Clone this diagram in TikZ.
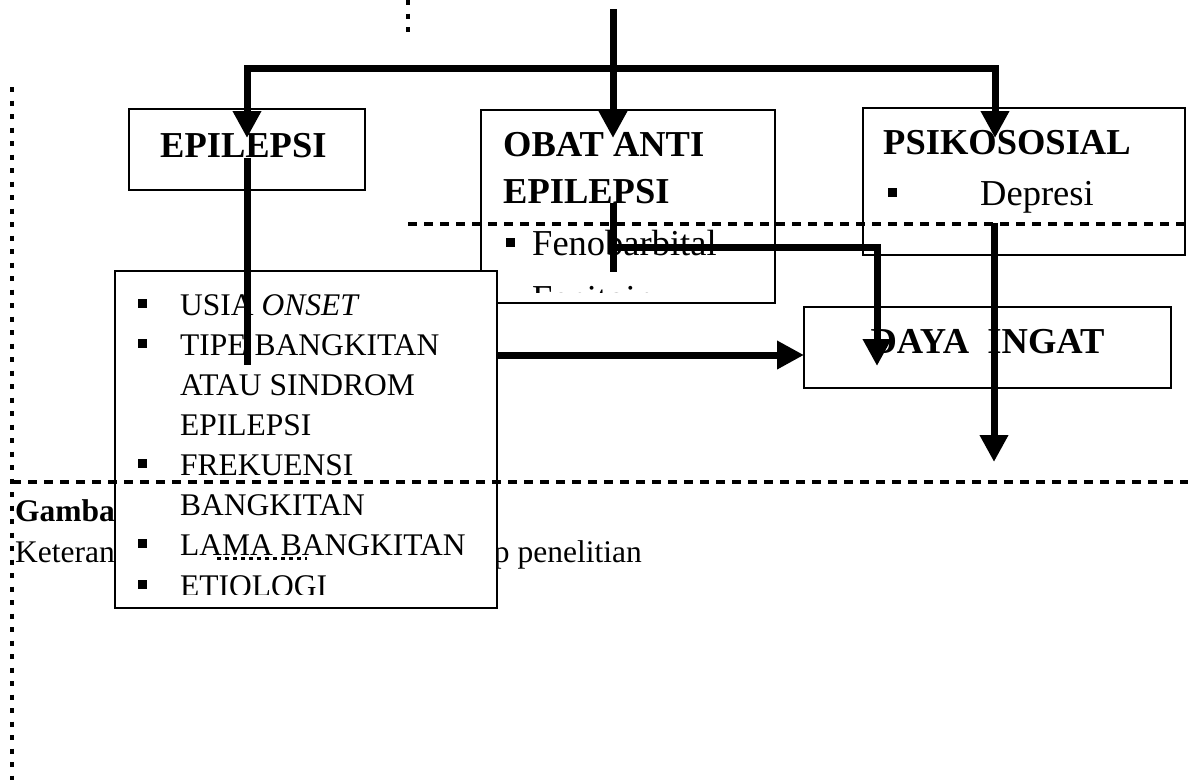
\documentclass[tikz,border=0pt]{standalone}
\usepackage{fontspec}
\setmainfont{Liberation Serif}
\usetikzlibrary{arrows.meta}
\begin{document}
\begin{tikzpicture}[x=1pt,y=-1pt,
  box/.style={draw,line width=2pt,fill=white,anchor=north west,inner sep=0pt,outer sep=0pt},
  conn/.style={line width=7pt},
  arr/.style={line width=7pt,-{Triangle[width=27pt,length=27pt]}},
  dotv/.style={line width=4pt,dash pattern=on 5pt off 8.5pt},
  dashh/.style={line width=3.5pt,dash pattern=on 9pt off 7pt},
  dashs/.style={line width=3pt,dash pattern=on 4pt off 4pt},
  bul/.style={fill=black,minimum size=9pt,inner sep=0pt,outer sep=0pt},
  title/.style={font=\fontsize{36.5}{40}\selectfont\bfseries,anchor=base west,inner sep=0pt},
  txt/.style={font=\fontsize{36.5}{40}\selectfont,anchor=base west,inner sep=0pt},
  ltxt/.style={font=\fontsize{31.5}{36}\selectfont,anchor=base west,inner sep=0pt},
  captxt/.style={font=\fontsize{31.5}{36}\selectfont,inner sep=0pt},
]
\useasboundingbox (0,0) rectangle (1188,780);
\fill[white] (0,0) rectangle (1188,780);

% caption (partly hidden)
\node[captxt,font=\fontsize{31.5}{36}\selectfont\bfseries,anchor=base west] (gamba) at (15,521) {Gamba};
\node[captxt,anchor=base west] (ket) at (15,562) {Keteran};
\node[captxt,anchor=base east] (pen) at (642,562) {p penelitian};

% boxes
\node[box,minimum width=294pt,minimum height=193pt] (obat) at (481,110) {};
\node[box,minimum width=236pt,minimum height=81pt] (epi) at (129,109) {};
\node[box,minimum width=322pt,minimum height=147pt] (psi) at (863,108) {};
\node[box,minimum width=367pt,minimum height=81pt] (daya) at (804,307) {};

% box texts
\node[title] (epit) at (160,157) {EPILEPSI};
\node[title] (obt1) at (503,156) {OBAT ANTI};
\node[title] (obt2) at (503,203) {EPILEPSI};
\begin{scope}
  \clip (481,110) rectangle (775,292);
  \node[bul] (ob1) at (510,242) {};
  \node[txt] (feno) at (532,255) {Fenobarbital};
  \node[bul] (ob2) at (510,297) {};
  \node[txt] (feni) at (532,310) {Fenitoin};
\end{scope}
\node[title] (psit) at (883,154) {PSIKOSOSIAL};
\node[bul] (pb1) at (892,192) {};
\node[txt] (dep) at (980,205) {Depresi};
\node[title,anchor=base] (dayat) at (987.5,353) {DAYA\ \ INGAT};

% list box
\node[box,minimum width=382pt,minimum height=337pt] (list) at (115,271) {};
\begin{scope}
  \clip (115,271) rectangle (497,594);
  \node[bul] (lb1) at (142.5,303) {};
  \node[ltxt] (l1) at (180,315) {USIA \textit{ONSET}};
  \node[bul] (lb2) at (142.5,343) {};
  \node[ltxt] (l2) at (180,355) {TIPE BANGKITAN};
  \node[ltxt] (l3) at (180,395) {ATAU SINDROM};
  \node[ltxt] (l4) at (180,435) {EPILEPSI};
  \node[bul] (lb5) at (142.5,463) {};
  \node[ltxt] (l5) at (180,475) {FREKUENSI};
  \node[ltxt] (l6) at (180,515) {BANGKITAN};
  \node[bul] (lb7) at (142.5,543) {};
  \node[ltxt] (l7) at (180,555) {LAMA BANGKITAN};
  \node[bul] (lb8) at (142.5,584) {};
  \node[ltxt] (l8) at (180,596) {ETIOLOGI};
\end{scope}

% connector coordinates
\coordinate (top) at (613,9);
\coordinate (obatTip) at (613,138);
\coordinate (hL) at (247,68);
\coordinate (hR) at (995,68);
\coordinate (epiTip) at (247,138);
\coordinate (psiTip) at (995,138);
\coordinate (epiA) at (247,158);
\coordinate (epiB) at (247,365);
\coordinate (obA) at (613,203);
\coordinate (obB) at (613,272);
\coordinate (obC) at (613,247);
\coordinate (obD) at (877,247);
\coordinate (obTip) at (877,366);
\coordinate (psA) at (994,223);
\coordinate (psTip) at (994,462);
\coordinate (lsA) at (497,355);
\coordinate (daTip) at (804,355);

\draw[arr] (top) -- (obatTip);
\draw[arr] (hR) -- (hL) -- (epiTip);
\draw[arr] (hL) -- (hR) -- (psiTip);
\draw[conn] (epiA) -- (epiB);
\draw[conn] (obA) -- (obB);
\draw[arr] (obC) -- (obD) -- (obTip);
\draw[arr] (psA) -- (psTip);
\draw[arr] (lsA) -- (daTip);

% dotted / dashed guide lines
\coordinate (d1a) at (408,0);
\coordinate (d1b) at (408,40);
\coordinate (d2a) at (12,87);
\coordinate (d2b) at (12,780);
\coordinate (h1a) at (408,224);
\coordinate (h1b) at (1188,224);
\coordinate (h2a) at (12,482);
\coordinate (h2b) at (1188,482);
\coordinate (s1a) at (217,558);
\coordinate (s1b) at (307,558);
\draw[dotv] (d1a) -- (d1b);
\draw[dotv] (d2a) -- (d2b);
\draw[dashh] (h1a) -- (h1b);
\draw[dashh] (h2a) -- (h2b);
\draw[dashs] (s1a) -- (s1b);
\end{tikzpicture}
\end{document}
